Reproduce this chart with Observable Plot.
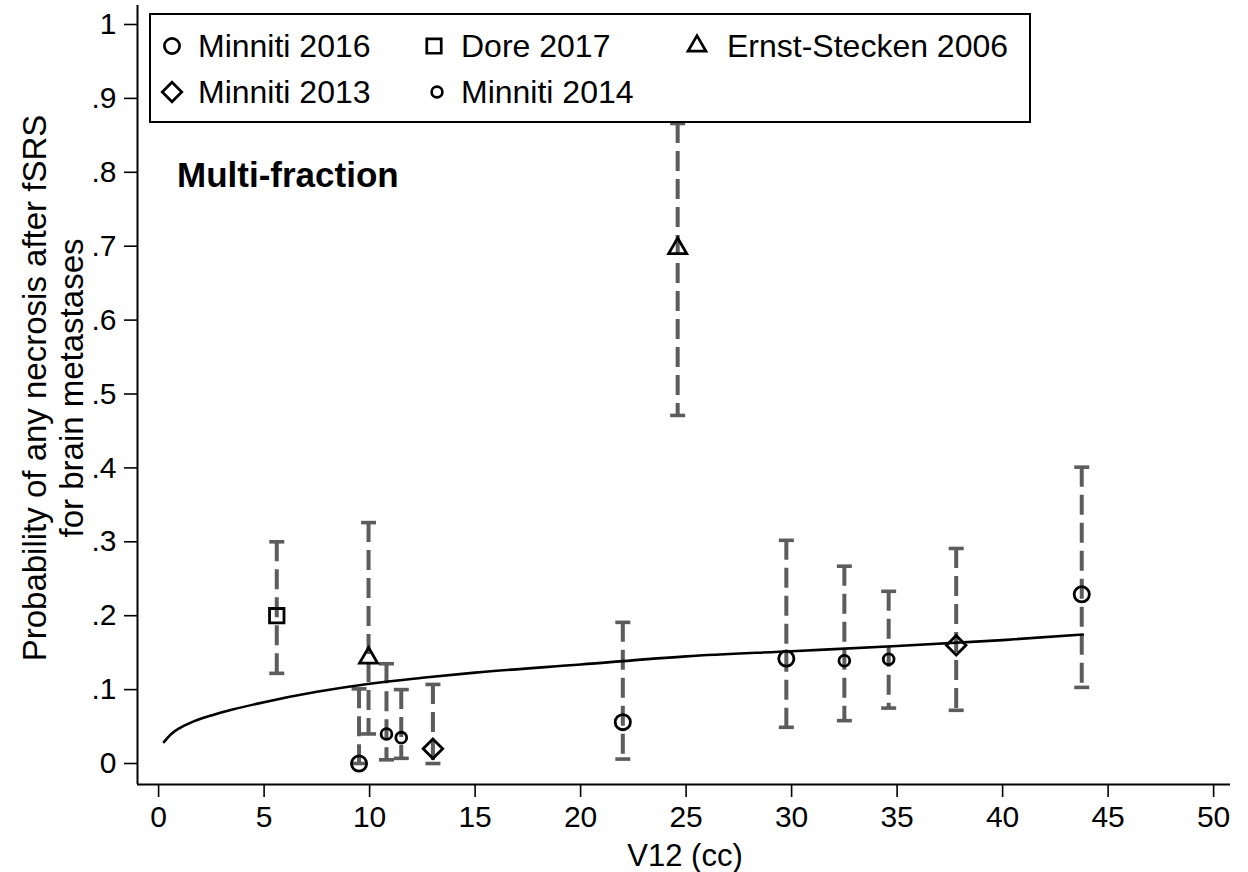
<!DOCTYPE html>
<html>
<head>
<meta charset="utf-8">
<script src="https://cdn.jsdelivr.net/npm/d3@7"></script>
<script src="https://cdn.jsdelivr.net/npm/@observablehq/plot@0.6"></script>
<style>
  html, body { margin: 0; padding: 0; background: #fff; }
  #chart { width: 1248px; height: 872px; }
</style>
</head>
<body>
<div id="chart"></div>
<script>
// ---------- data ----------
const studies = ["Minniti 2016", "Dore 2017", "Ernst-Stecken 2006", "Minniti 2013", "Minniti 2014"];

const v12   = [5.6,   9.95,  9.5,   10.8,  11.5,  13.0,  22.0,  24.6,  29.75, 32.5,  34.6,  37.8,  43.75];
const study = ["Dore 2017", "Ernst-Stecken 2006", "Minniti 2016", "Minniti 2014", "Minniti 2014", "Minniti 2013",
               "Minniti 2016", "Ernst-Stecken 2006", "Minniti 2016", "Minniti 2014", "Minniti 2014", "Minniti 2013", "Minniti 2016"];
const prob  = [0.200, 0.143, 0.000, 0.040, 0.035, 0.020, 0.056, 0.697, 0.142, 0.139, 0.141, 0.160, 0.229];
const ciLo  = [0.122, 0.040, 0.000, 0.005, 0.007, 0.000, 0.006, 0.471, 0.049, 0.058, 0.075, 0.072, 0.103];
const ciHi  = [0.300, 0.326, 0.101, 0.135, 0.100, 0.107, 0.191, 0.866, 0.302, 0.267, 0.233, 0.291, 0.401];

// fitted curve
const fitX = [0.25, 0.6, 1.0, 1.5, 2.5, 3.5, 5.0, 7.5, 10, 12.5, 15, 20, 25, 30, 35, 40, 43.8];
const fitY = [0.029, 0.040, 0.048, 0.055, 0.065, 0.073, 0.083, 0.097, 0.108, 0.116, 0.123, 0.134, 0.145, 0.152, 0.159, 0.167, 0.1745];

const xTicks = [0, 5, 10, 15, 20, 25, 30, 35, 40, 45, 50];
const yTicks = [0, 0.1, 0.2, 0.3, 0.4, 0.5, 0.6, 0.7, 0.8, 0.9, 1];
const yTickLabels = ["0", ".1", ".2", ".3", ".4", ".5", ".6", ".7", ".8", ".9", "1"];

const xTitle = "V12 (cc)";
const yTitle = ["Probability of any necrosis after fSRS", "for brain metastases"];
const note = "Multi-fraction";

// ---------- tables ----------
const rows = v12.map((x, i) => ({ v12: x, study: study[i], prob: prob[i], lo: ciLo[i], hi: ciHi[i] }));
const fit = fitX.map((x, i) => ({ x, y: fitY[i] }));

// ---------- symbols ----------
const SQ3 = Math.sqrt(3);
const sym = {
  circle: d3.symbolCircle,
  square: { draw(c, size) { const s = Math.sqrt(size) * 0.4431; c.rect(-s, -s, 2 * s, 2 * s); } },
  triangle: { draw(c, size) { const s = Math.sqrt(size) * 0.6824, t = s / 2, u = s * SQ3 / 2;
    c.moveTo(0, -s); c.lineTo(u, t); c.lineTo(-u, t); c.closePath(); } },
  diamond: { draw(c, size) { const r = Math.sqrt(size) * 0.62625;
    c.moveTo(0, -r); c.lineTo(r, 0); c.lineTo(0, r); c.lineTo(-r, 0); c.closePath(); } },
  cap: { draw(c, size) { const w = Math.sqrt(size / Math.PI); c.moveTo(-w, 0); c.lineTo(w, 0); } }
};
const markerStyle = {
  "Minniti 2016":       { symbol: sym.circle,   r: 7.6 },
  "Dore 2017":          { symbol: sym.square,   r: 9.2 },
  "Ernst-Stecken 2006": { symbol: sym.triangle, r: 8.6 },
  "Minniti 2013":       { symbol: sym.diamond,  r: 8.8 },
  "Minniti 2014":       { symbol: sym.circle,   r: 5.4 }
};

const xDomain = [-1, 50.8];
const yDomain = [-0.0284, 1.0257];
const barColor = "#5c5c5c";
const font = "'Liberation Sans', Arial, Helvetica, sans-serif";
const yLabelMap = new Map(yTicks.map((t, i) => [t, yTickLabels[i]]));

const chart = Plot.plot({
  width: 1248,
  height: 872,
  marginLeft: 137,
  marginRight: 18,
  marginTop: 5,
  marginBottom: 88,
  style: { fontFamily: font, fontSize: "30px", background: "white", color: "black", overflow: "visible" },
  x: { domain: xDomain },
  y: { domain: yDomain },
  marks: [
    Plot.axisX({ ticks: xTicks, tickSize: 13, tickPadding: 8, fontSize: 30, label: null, strokeWidth: 1.6 }),
    Plot.axisY({ ticks: yTicks, tickSize: 13, tickPadding: 8, fontSize: 30, label: null, strokeWidth: 1.6,
                 tickFormat: d => yLabelMap.get(d) }),
    Plot.ruleX([xDomain[0]], { stroke: "black", strokeWidth: 2 }),
    Plot.ruleY([yDomain[0]], { stroke: "black", strokeWidth: 2 }),
    // dashed CI bars
    Plot.ruleX(rows, { x: "v12", y1: "hi", y2: "lo", stroke: barColor, strokeWidth: 4, strokeDasharray: "20,8" }),
    Plot.dot(rows, { x: "v12", y: "hi", symbol: sym.cap, r: 7.5, stroke: barColor, strokeWidth: 3.6, fill: "none" }),
    Plot.dot(rows, { x: "v12", y: "lo", symbol: sym.cap, r: 7.5, stroke: barColor, strokeWidth: 3.6, fill: "none" }),
    // fitted curve
    Plot.line(fit, { x: "x", y: "y", curve: "monotone-x", stroke: "black", strokeWidth: 2.6 }),
    // markers
    ...studies.map(s => Plot.dot(rows.filter(d => d.study === s), {
      x: "v12", y: "prob", symbol: markerStyle[s].symbol, r: markerStyle[s].r,
      stroke: "black", strokeWidth: 2.8, fill: "none"
    }))
  ]
});

document.getElementById("chart").appendChild(chart);

// ---------- annotations: titles, legend, note ----------
const svg = d3.select(chart);
const g = svg.append("g").attr("font-family", font).attr("fill", "black").attr("text-anchor", "start");

// x title
g.append("text").attr("x", 685).attr("y", 866).attr("text-anchor", "middle")
  .attr("font-size", 31).text(xTitle);

// y title (two lines)
const yt = g.append("text").attr("transform", "translate(0,388) rotate(-90)")
  .attr("text-anchor", "middle").attr("font-size", 33);
yt.append("tspan").attr("x", 0).attr("y", 46).text(yTitle[0]);
yt.append("tspan").attr("x", 0).attr("y", 83).text(yTitle[1]);

// note
g.append("text").attr("x", 177).attr("y", 187).attr("font-size", 35).attr("font-weight", "bold").text(note);

// legend
const leg = g.append("g");
leg.append("rect").attr("x", 150).attr("y", 14).attr("width", 880).attr("height", 108)
  .attr("fill", "white").attr("stroke", "black").attr("stroke-width", 2);
const legPos = [
  { sx: 172, tx: 198, y: 46 },
  { sx: 434, tx: 461, y: 46 },
  { sx: 697, tx: 727, y: 46 },
  { sx: 172, tx: 198, y: 92 },
  { sx: 437, tx: 461, y: 92 }
];
studies.forEach((s, i) => {
  const p = legPos[i], m = markerStyle[s];
  leg.append("path").attr("d", d3.symbol(m.symbol, Math.PI * m.r * m.r)())
    .attr("transform", `translate(${p.sx},${p.y})`)
    .attr("fill", "none").attr("stroke", "black").attr("stroke-width", 2.7);
  leg.append("text").attr("x", p.tx).attr("y", p.y + 11).attr("font-size", 32).text(s);
});
</script>
</body>
</html>
